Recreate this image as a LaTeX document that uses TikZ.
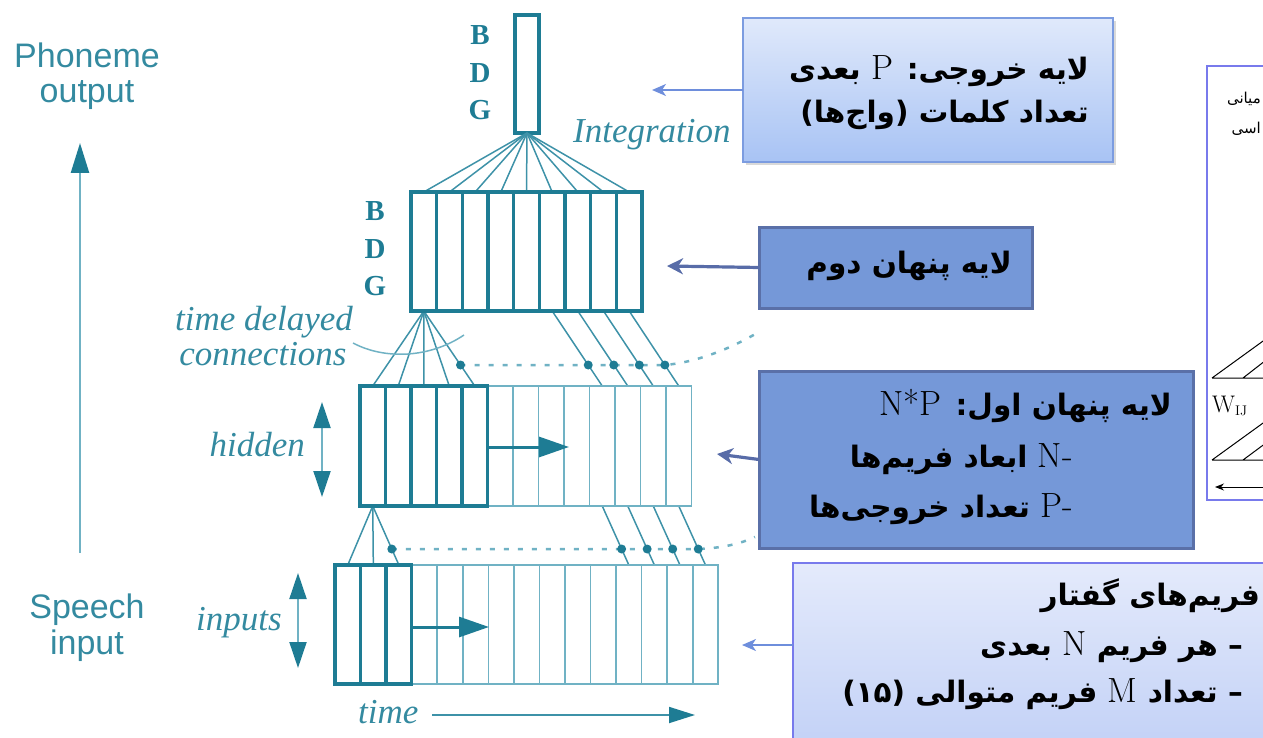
\documentclass[tikz,border=0pt]{standalone}
\usepackage{fontspec}
\usetikzlibrary{arrows.meta,calc,shadows}
\TeXXeTstate=1
\newfontfamily\fasans[Script=Arabic]{DejaVu Sans}
\newfontfamily\labelsans{Liberation Sans}
\newfontfamily\labelserif{Liberation Serif}
\newcommand\latinpart{\rmfamily\mdseries\upshape\fontsize{35}{35}\selectfont}

\definecolor{tealD}{RGB}{30,124,148}
\definecolor{tealM}{RGB}{62,146,168}
\definecolor{tealL}{RGB}{112,178,196}
\definecolor{tealT}{RGB}{52,138,160}
\definecolor{lbTop}{RGB}{224,233,251}
\definecolor{lbBot}{RGB}{168,195,244}
\definecolor{lbEdge}{RGB}{124,156,224}
\definecolor{dbFill}{RGB}{117,152,216}
\definecolor{dbEdge}{RGB}{90,112,168}
\definecolor{bfTop}{RGB}{228,234,251}
\definecolor{bfBot}{RGB}{190,206,246}
\definecolor{bfEdge}{RGB}{120,122,236}
\definecolor{arrA}{RGB}{110,142,220}
\definecolor{arrB}{RGB}{88,108,168}

\tikzset{
  thickline/.style={draw=tealD, line width=3.5pt},
  thinline/.style={draw=tealL, line width=1.6pt},
  fanline/.style={draw=tealM, line width=1.5pt},
  arcline/.style={draw=tealL, line width=1.5pt},
  delay/.style={draw=tealL, line width=2.5pt, dash pattern=on 5pt off 9pt},
  unitdot/.style={circle, fill=tealD, inner sep=0pt, minimum size=9pt},
  cellarrow/.style={draw=tealD, line width=3pt, -{Triangle[length=30pt,width=20pt]}},
  dblarrow/.style={draw=tealL, line width=2pt,
    {Triangle[length=26pt,width=17pt,color=tealD]}-{Triangle[length=26pt,width=17pt,color=tealD]}},
  timearrow/.style={draw=tealM, line width=1.8pt, -{Triangle[length=26pt,width=16pt,color=tealD]}},
  uparrow/.style={draw=tealL, line width=2.5pt, -{Triangle[length=30pt,width=18pt,color=tealD]}},
  sanslabel/.style={font=\labelsans\fontsize{34}{36}\selectfont, text=tealT, inner sep=0pt, anchor=base},
  itlabel/.style={font=\labelserif\itshape\fontsize{35}{35}\selectfont, text=tealT, inner sep=0pt},
  bdg/.style={font=\labelserif\bfseries\fontsize{29}{29}\selectfont, text=tealD, inner sep=0pt, anchor=base},
  lightbox/.style={draw=#1, line width=1.6pt, top color=lbTop, bottom color=lbBot,
    inner sep=0pt, outer sep=0pt, anchor=north west,
    drop shadow={shadow xshift=3pt, shadow yshift=-3pt, opacity=0.25, fill=black!60}},
  darkbox/.style={draw=dbEdge, fill=dbFill, line width=3pt, inner sep=0pt, outer sep=0pt, anchor=north west},
  fatext/.style={font=\fasans\bfseries\fontsize{29.5}{34}\selectfont, text=black, inner sep=0pt, anchor=base east},
  sidetext/.style={font=\fasans\fontsize{15}{18}\selectfont, text=black, inner sep=0pt, anchor=base east},
  pointA/.style={draw=arrA, line width=1.8pt, -{Stealth[length=14pt,width=12pt,inset=4pt]}},
  pointB/.style={draw=arrB, line width=3.2pt, -{Stealth[length=16pt,width=16pt,inset=5pt]}},
}

\begin{document}
\begin{tikzpicture}[x=1pt,y=-1pt]
\useasboundingbox (0,0) rectangle (1263,738);
\clip (0,0) rectangle (1263,738);

% ---------- left axis ----------
\node[sanslabel] (ph1) at (87,68) {Phoneme};
\node[sanslabel] (ph2) at (87,103) {output};
\node[sanslabel] (sp1) at (87,618) {Speech};
\node[sanslabel] (sp2) at (87,654) {input};
\coordinate (axisBot) at (80,553);
\coordinate (axisTop) at (80,143);
\draw[uparrow] (axisBot) -- (axisTop);

% ---------- output unit ----------
\node[draw=tealD, line width=3.5pt, minimum width=24pt, minimum height=118pt,
      inner sep=0pt, outer sep=0pt] (out) at (527,74) {};
\node[bdg] (oB) at (480,45) {B};
\node[bdg] (oD) at (480,83) {D};
\node[bdg] (oG) at (480,120) {G};
\node[itlabel, anchor=base west] (integ) at (573,143) {Integration};

% ---------- second hidden layer ----------
\foreach \i in {1,...,9} {
  \coordinate (st\i) at ({411+25.667*(\i-0.5)},192);
  \coordinate (sb\i) at ({411+25.667*(\i-0.5)},311);
}
\node[bdg] (sB) at (375,220) {B};
\node[bdg] (sD) at (375,258) {D};
\node[bdg] (sG) at (375,295) {G};

% ---------- first hidden layer ----------
\foreach \i in {1,...,13} {
  \coordinate (ht\i) at ({360+25.5*(\i-0.5)},386);
  \coordinate (hb\i) at ({360+25.5*(\i-0.5)},506);
}
% ---------- input layer ----------
\foreach \i in {1,...,15} {
  \coordinate (it\i) at ({335+25.55*(\i-0.5)},565);
}

% connections
\foreach \i in {1,...,9} \draw[fanline] (out.south) -- (st\i);
\foreach \i in {1,...,5} \draw[fanline] (sb1) -- (ht\i);
\foreach \i/\j in {6/10,7/11,8/12,9/13} \draw[fanline] (sb\i) -- (ht\j);
\foreach \i in {1,2,3} \draw[fanline] (hb1) -- (it\i);
\foreach \i/\j in {10/12,11/13,12/14,13/15} \draw[fanline] (hb\i) -- (it\j);

% time-delay taps
\coordinate (u0) at ($(sb1)!0.72!(ht5)$);
\foreach \i/\j [count=\k] in {6/10,7/11,8/12,9/13} \coordinate (u\k) at ($(sb\i)!0.72!(ht\j)$);
\coordinate (l0) at ($(hb1)!0.729!(it3)$);
\foreach \i/\j [count=\k] in {10/12,11/13,12/14,13/15} \coordinate (l\k) at ($(hb\i)!0.729!(it\j)$);
\draw[delay] (u0) -- (u4) .. controls (700,362) and (735,346) .. (757,333);
\draw[delay] (l0) -- (l4) .. controls (722,548) and (740,544) .. (755,537);
\foreach \k in {0,...,4} {
  \node[unitdot] (ud\k) at (u\k) {};
  \node[unitdot] (ld\k) at (l\k) {};
}

% cells: thin parts first, thick windows on top
\draw[thinline] (360,386) rectangle (691.5,506);
\foreach \i in {6,...,12} \draw[thinline] ({360+25.5*\i},386) -- ({360+25.5*\i},506);
\draw[thinline] (335,565) rectangle (718.25,684);
\foreach \i in {4,...,14} \draw[thinline] ({335+25.55*\i},565) -- ({335+25.55*\i},684);

\draw[thickline] (411,192) rectangle (642,311);
\foreach \i in {1,...,8} \draw[thickline] ({411+25.667*\i},192) -- ({411+25.667*\i},311);
\draw[thickline] (360,386) rectangle (487.5,506);
\foreach \i in {1,...,4} \draw[thickline] ({360+25.5*\i},386) -- ({360+25.5*\i},506);
\draw[thickline] (335,565) rectangle (411.65,684);
\foreach \i in {1,2} \draw[thickline] ({335+25.55*\i},565) -- ({335+25.55*\i},684);

% shift arrows
\coordinate (hA) at (487.5,447);
\coordinate (hB) at (569,447);
\draw[cellarrow] (hA) -- (hB);
\coordinate (iA) at (411.65,627);
\coordinate (iB) at (489,627);
\draw[cellarrow] (iA) -- (iB);

% side labels
\draw[arcline] (353,343) .. controls (385,360) and (430,358) .. (464,335);
\node[itlabel, anchor=base] (tdc1) at (264,330) {time delayed};
\node[itlabel, anchor=base] (tdc2) at (263,365) {connections};
\node[itlabel, anchor=base east] (hid) at (305,456) {hidden};
\coordinate (hUp) at (322,402);
\coordinate (hDn) at (322,497);
\draw[dblarrow] (hUp) -- (hDn);
\node[itlabel, anchor=base east] (inp) at (282,630) {inputs};
\coordinate (iUp) at (298,573);
\coordinate (iDn) at (298,668);
\draw[dblarrow] (iUp) -- (iDn);
\node[itlabel, anchor=base west] (tim) at (358,723) {time};
\coordinate (tA) at (432,715);
\coordinate (tB) at (695,715);
\draw[timearrow] (tA) -- (tB);

% ---------- partly visible panel at the right ----------
\node[draw=bfEdge, line width=1.5pt, fill=white, minimum width=120pt, minimum height=434pt,
      inner sep=0pt, outer sep=0pt, anchor=north west] (side) at (1207,66) {};
\node[sidetext] (sideA) at (1261,104) {\beginR میانی\endR};
\node[sidetext] (sideB) at (1261,134) {\beginR اسی\endR};
\draw[black, line width=1pt] (1212,378) -- (1270,378) (1212,378) -- (1270,336) (1243,378) -- (1270,357);
\node[inner sep=0pt, anchor=base west] (wij) at (1212,412)
  {\rmfamily\fontsize{24}{24}\selectfont W\raisebox{-3pt}{\fontsize{14}{14}\selectfont IJ}};
\draw[black, line width=1pt] (1212,460) -- (1270,460) (1212,460) -- (1270,418) (1243,460) -- (1270,440);
\draw[black, line width=1pt, -{Stealth[length=9pt,width=7pt]}] (1270,487) -- (1215,487);

% ---------- annotation boxes ----------
\node[lightbox=lbEdge, minimum width=370pt, minimum height=144pt] (box1) at (743,18) {};
\node[fatext] (b1a) at (1089,80) {\beginR لایه خروجی: {\latinpart P} بعدی\endR};
\node[fatext] (b1b) at (1089,123) {\beginR تعداد کلمات (واج^^^^200cها)\endR};
\coordinate (t1) at (652,90);
\draw[pointA] (box1.west) -- (t1);

\node[darkbox, minimum width=273pt, minimum height=81pt] (box2) at (759,227) {};
\node[fatext] (b2a) at (1012,273) {\beginR لایه پنهان دوم\endR};
\coordinate (t2) at (667,266);
\draw[pointB] (box2.west) -- (t2);

\node[darkbox, minimum width=434pt, minimum height=177pt] (box3) at (759,371) {};
\node[fatext] (b3a) at (1172,415) {\beginR لایه پنهان اول: {\latinpart N*P}\endR};
\node[fatext] (b3b) at (1073,467) {\beginR{\latinpart -}\kern0pt{\latinpart N} ابعاد فریم^^^^200cها\endR};
\node[fatext] (b3c) at (1073,517) {\beginR{\latinpart -}\kern0pt{\latinpart P} تعداد خروجی^^^^200cها\endR};
\coordinate (t3) at (717,454);
\draw[pointB] (box3.west) -- (t3);

\node[lightbox=bfEdge, top color=bfTop, bottom color=bfBot, minimum width=520pt, minimum height=210pt] (box4) at (793,563) {};
\node[fatext] (b4a) at (1260,605) {\beginR فریم^^^^200cهای گفتار\endR};
\node[fatext] (b4b) at (1243,655) {\beginR – هر فریم {\latinpart N} بعدی\endR};
\node[fatext] (b4c) at (1243,702) {\beginR – تعداد {\latinpart M} فریم متوالی (۱۵)\endR};
\coordinate (t4) at (742,645);
\draw[pointA] (box4.west |- t4) -- (t4);
\end{tikzpicture}
\end{document}
